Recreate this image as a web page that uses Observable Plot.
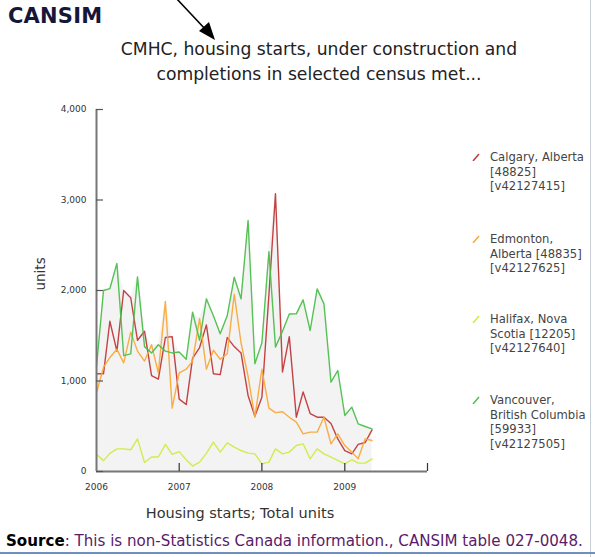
<!DOCTYPE html>
<html>
<head>
<meta charset="utf-8">
<script src="https://cdn.jsdelivr.net/npm/d3@7"></script>
<script src="https://cdn.jsdelivr.net/npm/@observablehq/plot@0.6"></script>
<style>
  html, body { margin: 0; padding: 0; background: #fff; }
  #page { position: relative; width: 595px; height: 557px; overflow: hidden; font-family: "DejaVu Sans", Verdana, sans-serif; }
  .abs { position: absolute; white-space: nowrap; }
  #brand { left: 8px; top: 4px; font-size: 21px; font-weight: bold; color: #14173a; letter-spacing: 0.2px; }
  #title { left: 99px; top: 37px; width: 440px; text-align: center; font-size: 17.2px; line-height: 25px; color: #222; white-space: normal; }
  #xlabel { left: 90px; top: 505px; width: 300px; text-align: center; font-size: 14.5px; color: #333; }
  #source { left: 6px; top: 532px; font-size: 15.1px; color: #5a1a6a; }
  #source b { color: #000; }
  #legend { left: 470px; top: 150px; font-size: 11.6px; line-height: 14.6px; color: #444; }
  .item { position: absolute; left: 0; }
  .item .sw { position: absolute; left: 2px; top: 3px; width: 8px; height: 8px; }
  .item .tx { position: absolute; left: 20px; top: 0; }
  #chart { position: absolute; left: 0; top: 100px; }
  #rborder { position: absolute; left: 590px; top: 0; width: 1px; height: 557px; background: #c8ccd4; }
  #bborder { position: absolute; left: 0; top: 552px; width: 595px; height: 2px; background: #6f8fc2; }
</style>
</head>
<body>
<div id="page">
  <div id="brand" class="abs">CANSIM</div>
  <svg class="abs" style="left:0;top:0" width="260" height="50">
    <line x1="176" y1="-2" x2="206" y2="30" stroke="#000" stroke-width="1.6"/>
    <polygon points="215,40 199,31 209,22" fill="#000"/>
  </svg>
  <div id="title" class="abs">CMHC, housing starts, under construction and completions in selected census met...</div>
  <div id="chart"></div>
  <div id="xlabel" class="abs">Housing starts; Total units</div>
  <div id="legend" class="abs"></div>
  <div id="source" class="abs"><b>Source</b>: This is non-Statistics Canada information., CANSIM table 027-0048.</div>
  <div id="rborder"></div>
  <div id="bborder"></div>
</div>
<script>
// Monthly values, January 2006 to May 2009
const startYear = 2006;
const startMonth = 0;
const cities = [
  "Calgary, Alberta [48825] [v42127415]",
  "Edmonton, Alberta [48835] [v42127625]",
  "Halifax, Nova Scotia [12205] [v42127640]",
  "Vancouver, British Columbia [59933] [v42127505]"
];
const legendLines = [
  ["Calgary, Alberta", "[48825]", "[v42127415]"],
  ["Edmonton,", "Alberta [48835]", "[v42127625]"],
  ["Halifax, Nova", "Scotia [12205]", "[v42127640]"],
  ["Vancouver,", "British Columbia", "[59933]", "[v42127505]"]
];
const colors = ["#c0393a", "#f9a93a", "#cdec45", "#4cbf4c"];

const calgary = [1080, 1080, 1660, 1330, 2000, 1920, 1450, 1550, 1060, 1020, 1480, 1490, 800, 740, 1250, 1370, 1620, 1080, 1070, 1480, 1380, 1310, 840, 610, 820, 1950, 3070, 1100, 1490, 600, 880, 640, 600, 600, 530, 360, 230, 195, 300, 320, 460];
const edmonton = [870, 1150, 1260, 1350, 1200, 1540, 1330, 1220, 1400, 1090, 1880, 700, 1090, 1130, 1220, 1690, 1130, 1340, 1240, 1300, 1960, 1420, 1050, 600, 1130, 700, 650, 660, 600, 545, 416, 435, 435, 600, 306, 416, 287, 214, 140, 361, 343];
const halifax = [190, 120, 200, 250, 250, 240, 360, 100, 160, 160, 300, 190, 220, 130, 60, 103, 200, 324, 214, 317, 269, 232, 203, 195, 85, 103, 250, 195, 214, 287, 306, 140, 250, 195, 158, 122, 85, 130, 92, 92, 140];
const vancouver = [1160, 2000, 2020, 2300, 1280, 1300, 2150, 1380, 1310, 1400, 1330, 1310, 1320, 1240, 1760, 1450, 1908, 1720, 1521, 1720, 2147, 1908, 2773, 1190, 1420, 2430, 1374, 1550, 1740, 1742, 1897, 1558, 2018, 1852, 987, 1116, 619, 711, 527, 497, 471];

const yTicks = [0, 1000, 2000, 3000, 4000];
const xTickYears = [2006, 2007, 2008, 2009];
const xMarkYears = [2007, 2008, 2009, 2010];
const yLabel = "units";

const series = [calgary, edmonton, halifax, vancouver];
const dateOf = i => new Date(startYear, startMonth + i, 1);
const rows = [];
series.forEach((vals, s) => vals.forEach((v, i) => rows.push({date: dateOf(i), city: cities[s], value: v})));
const maxRows = calgary.map((_, i) => ({date: dateOf(i), value: d3.max(series, a => a[i])}));
const yr = y => new Date(y, 0, 1);

const chart = Plot.plot({
  width: 440,
  height: 410,
  marginLeft: 96,
  marginRight: 13,
  marginTop: 9,
  marginBottom: 39,
  style: {fontFamily: "'DejaVu Sans', Verdana, sans-serif", fontSize: "9px", color: "#222", background: "transparent"},
  x: {type: "time", domain: [yr(2006), yr(2010)]},
  y: {domain: [0, 4000]},
  color: {domain: cities, range: colors},
  marks: [
    Plot.areaY(maxRows, {x: "date", y: "value", fill: "#f3f3f3"}),
    Plot.lineY(rows, {x: "date", y: "value", z: "city", stroke: "city", strokeWidth: 1.4, strokeOpacity: 0.95}),
    Plot.ruleX([yr(2006)], {x: d => d, y1: 0, y2: 4000, stroke: "#777", strokeWidth: 2}),
    Plot.ruleY([0], {y: d => d, x1: yr(2006), x2: yr(2010), stroke: "#777", strokeWidth: 2}),
    Plot.ruleY(yTicks, {y: d => d, x1: yr(2006), x2: yr(2006), insetRight: -7, stroke: "#555", strokeWidth: 1.2}),
    Plot.ruleX(xMarkYears.map(yr), {x: d => d, y1: 0, y2: 0, insetTop: -8, stroke: "#333", strokeWidth: 1.2}),
    Plot.axisY(yTicks, {tickSize: 0, tickPadding: 10, tickFormat: d => d3.format(",")(d), label: null, fontSize: 9, fill: "#333"}),
    Plot.axisX(xTickYears.map(yr), {tickSize: 0, tickPadding: 12, tickFormat: d => String(d.getFullYear()), label: null, fontSize: 9, fill: "#333"}),
    Plot.text([yLabel], {frameAnchor: "left", dx: -56, rotate: -90, fontSize: 13.5, fill: "#333"})
  ]
});
document.getElementById("chart").appendChild(chart);

const legend = document.getElementById("legend");
const itemTops = [0, 82, 162, 243];
legendLines.forEach((lines, s) => {
  const it = document.createElement("div");
  it.className = "item";
  it.style.top = itemTops[s] + "px";
  it.innerHTML = `<svg class="sw" width="8" height="8"><line x1="1" y1="8" x2="7" y2="1" stroke="${colors[s]}" stroke-width="1.5"/></svg><div class="tx">${lines.join("<br>")}</div>`;
  legend.appendChild(it);
});
</script>
</body>
</html>
